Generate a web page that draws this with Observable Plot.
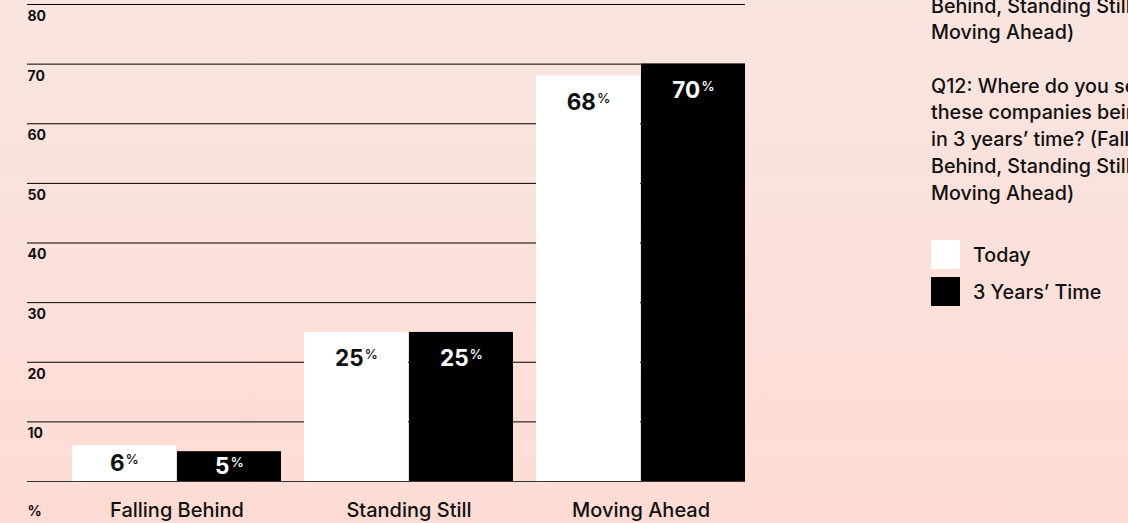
<!DOCTYPE html>
<html>
<head>
<meta charset="utf-8">
<script src="https://cdn.jsdelivr.net/npm/d3@7"></script>
<script src="https://cdn.jsdelivr.net/npm/@observablehq/plot@0.6"></script>
<style>
html, body { margin: 0; padding: 0; width: 1128px; height: 523px; overflow: hidden; }
body {
  position: relative;
  background: linear-gradient(180deg, #f9e5e0 0%, #fedcd4 100%);
  font-family: Inter, "Open Sans", sans-serif;
  color: #111;
}
#chart { position: absolute; left: 0; top: 0; }
#notes {
  position: absolute; left: 931px; top: -87.5px;
  font-size: 19.7px; line-height: 26.7px; white-space: nowrap; font-weight: 500;
}
.legend { position: absolute; left: 931px; display: flex; align-items: center; font-size: 19.7px; font-weight: 500; }
.legend .sw { width: 29px; height: 29px; margin-right: 13px; }
</style>
</head>
<body>
<div id="chart"></div>
<div id="notes"></div>
<div id="legend"></div>
<script>
// ---- data ----
const categories = ["Falling Behind", "Standing Still", "Moving Ahead"];
const seriesNames = ["Today", "3 Years’ Time"];
const todayValues = [6, 25, 68];
const threeYearValues = [5, 25, 70];
const yTicks = [10, 20, 30, 40, 50, 60, 70, 80];
const noteLines = [
  "Q11: Where do you see",
  "these companies being",
  "today? (Falling",
  "Behind, Standing Still,",
  "Moving Ahead)",
  "",
  "Q12: Where do you see",
  "these companies being",
  "in 3 years’ time? (Falling",
  "Behind, Standing Still,",
  "Moving Ahead)"
];

const today = categories.map((c, i) => ({category: c, series: seriesNames[0], value: todayValues[i]}));
const later = categories.map((c, i) => ({category: c, series: seriesNames[1], value: threeYearValues[i]}));

// ---- layout ----
const W = 760, H = 523;
const mL = 27, mR = 15, mT = 4, mB = 42;
const pInner = 0.097, pOuter = 0.0924;
const step = (W - mL - mR) / (categories.length - pInner + 2 * pOuter);
const bw = step * (1 - pInner);
const half = bw / 2;

const labelY = d => Math.max(d.value - 4.45, d.value / 2);

const svg = Plot.plot({
  width: W, height: H,
  marginLeft: mL, marginRight: mR, marginTop: mT, marginBottom: mB,
  style: {background: "transparent", fontFamily: "Inter, sans-serif", overflow: "visible"},
  x: {domain: categories, paddingInner: pInner, paddingOuter: pOuter, align: 1, axis: null},
  y: {domain: [0, 80], axis: null},
  marks: [
    Plot.ruleY(yTicks, {stroke: "#000", strokeWidth: 1}),
    Plot.barY(today, {x: "category", y: "value", fill: "#fff", insetRight: half}),
    Plot.barY(later, {x: "category", y: "value", fill: "#000", insetLeft: half}),
    Plot.ruleY([0], {stroke: "#333", strokeWidth: 1.2}),
    Plot.text(yTicks, {y: d => d, text: d => String(d), frameAnchor: "left", textAnchor: "start",
      dy: 12, fontSize: 14, fontWeight: 700, fill: "#111"}),
    Plot.text([0], {y: d => d, text: () => "%", frameAnchor: "left", textAnchor: "start",
      dy: 30, fontSize: 14, fontWeight: 700, fill: "#111"}),
    Plot.text(categories, {x: d => d, y: () => 0, text: d => d, dy: 29, fontSize: 20, fontWeight: 500, fill: "#111"}),
    Plot.text(today, {x: "category", y: labelY, text: d => String(d.value), dx: -half / 2,
      fontSize: 22.5, fontWeight: 700, fill: "#111", ariaDescription: "value-labels"}),
    Plot.text(later, {x: "category", y: labelY, text: d => String(d.value), dx: half / 2,
      fontSize: 22.5, fontWeight: 700, fill: "#fff", ariaDescription: "value-labels"})
  ]
});

// superscript percent signs
d3.select(svg).selectAll("g[aria-description='value-labels'] text").each(function() {
  d3.select(this).append("tspan").attr("font-size", 13.5).attr("font-weight", 500)
    .attr("dx", 1).attr("dy", -7).text("%");
});

document.getElementById("chart").appendChild(svg);

// notes
const notes = document.getElementById("notes");
notes.innerHTML = noteLines.map(l => l === "" ? "&nbsp;" : l).join("<br>");

// legend
const legend = document.getElementById("legend");
const swatchColors = ["#fff", "#000"];
const legendTops = [240, 277];
seriesNames.forEach((s, i) => {
  const row = document.createElement("div");
  row.className = "legend";
  row.style.top = legendTops[i] + "px";
  const sw = document.createElement("div");
  sw.className = "sw";
  sw.style.background = swatchColors[i];
  const t = document.createElement("span");
  t.textContent = s;
  row.appendChild(sw); row.appendChild(t);
  legend.appendChild(row);
});
</script>
</body>
</html>
